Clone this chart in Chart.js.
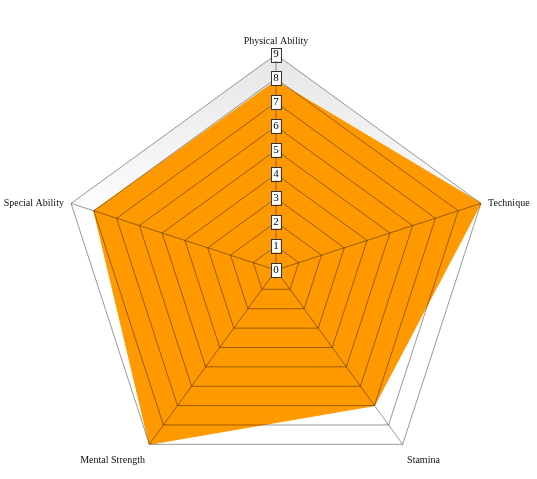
<!DOCTYPE html>
<html>
<head>
<meta charset="utf-8">
<script src="https://cdn.jsdelivr.net/npm/chart.js@4.4.0/dist/chart.umd.min.js"></script>
<style>
  html, body { margin: 0; padding: 0; background: #fff; overflow: hidden; }
  #wrap { position: relative; width: 537px; height: 479px; overflow: hidden; }
  /* canvas a bit off the window so the web gets the same centre and radius as the original */
  #radar { position: absolute; left: -14px; top: 29px; }
</style>
</head>
<body>
<div id="wrap"><canvas id="radar" width="580" height="470"></canvas></div>
<script>
// axis names, clockwise from the top
const CATEGORIES = ['Physical Ability', 'Technique', 'Stamina', 'Mental Strength', 'Special Ability'];
// player rating, 0-9 scale
const RATINGS = [7.9, 9, 7, 9, 8];
const SCALE_MIN = 0;
const SCALE_MAX = 9;

// faint grey wash near the top of the web, fading to white.
// drawn before the dataset because the grid itself sits above the fill
const webBackground = {
  id: 'webBackground',
  beforeDatasetsDraw(chart) {
    const scale = chart.scales.r;
    const ctx = chart.ctx;
    const g = ctx.createLinearGradient(0, scale.yCenter - scale.drawingArea, 0, scale.yCenter - 40);
    g.addColorStop(0, '#e6e6e6');
    g.addColorStop(1, '#ffffff');
    ctx.save();
    ctx.beginPath();
    CATEGORIES.forEach((c, i) => {
      const p = scale.getPointPosition(i, scale.drawingArea);
      if (i === 0) ctx.moveTo(p.x, p.y); else ctx.lineTo(p.x, p.y);
    });
    ctx.closePath();
    ctx.fillStyle = g;
    ctx.fill();
    ctx.restore();
  }
};

// the original centres the side labels on their corner instead of sitting above it,
// and puts the bottom ones a little lower; nudge Chart.js's label boxes to match
const labelNudge = {
  id: 'labelNudge',
  afterLayout(chart) {
    const items = chart.scales.r._pointLabelItems || [];
    const dy = [0, 8, 4, 4, 8];
    items.forEach((it, i) => {
      it.y += dy[i];
      it.top += dy[i];
      it.bottom += dy[i];
    });
  }
};

// outline round each tick label box; Chart.js skips the "0" label so add it here
const tickBoxes = {
  id: 'tickBoxes',
  afterDraw(chart) {
    const scale = chart.scales.r;
    const ctx = chart.ctx;
    ctx.save();
    ctx.font = '11px "Liberation Serif"';
    ctx.strokeStyle = '#333';
    ctx.lineWidth = 1;
    scale.ticks.forEach(t => {
      const off = scale.getDistanceFromCenterForValue(t.value);
      const label = String(t.value);
      const w = ctx.measureText(label).width;
      const x = Math.round(scale.xCenter - w / 2 - 2) + 0.5;
      const y = Math.round(scale.yCenter - off - 5.5 - 1.5) + 0.5;
      if (t.value === SCALE_MIN) {
        ctx.fillStyle = '#fff';
        ctx.fillRect(x, y, Math.round(w + 4), 14);
        ctx.fillStyle = '#000';
        ctx.textAlign = 'center';
        ctx.textBaseline = 'middle';
        ctx.fillText(label, scale.xCenter, scale.yCenter - off);
      }
      ctx.strokeRect(x, y, Math.round(w + 4), 14);
    });
    ctx.restore();
  }
};

new Chart(document.getElementById('radar'), {
  type: 'radar',
  data: {
    labels: CATEGORIES,
    datasets: [{
      data: RATINGS,
      backgroundColor: '#ff9900',
      borderColor: '#ff9900',
      borderWidth: 1,
      pointRadius: 0,
      fill: true
    }]
  },
  options: {
    responsive: false,
    animation: false,
    plugins: { legend: { display: false }, tooltip: { enabled: false } },
    scales: {
      r: {
        min: SCALE_MIN,
        max: SCALE_MAX,
        grid: { color: 'rgba(0,0,0,0.4)', lineWidth: 1, z: 1 },
        angleLines: { color: 'rgba(0,0,0,0.4)', lineWidth: 1 },
        ticks: {
          z: 2,
          stepSize: 1,
          color: '#000',
          font: { family: 'Liberation Serif', size: 11 },
          backdropColor: '#fff',
          backdropPadding: { x: 2, y: 1 }
        },
        pointLabels: {
          color: '#111',
          padding: 1,
          font: { family: 'Liberation Serif', size: 10 }
        }
      }
    }
  },
  plugins: [webBackground, labelNudge, tickBoxes]
});
</script>
</body>
</html>
